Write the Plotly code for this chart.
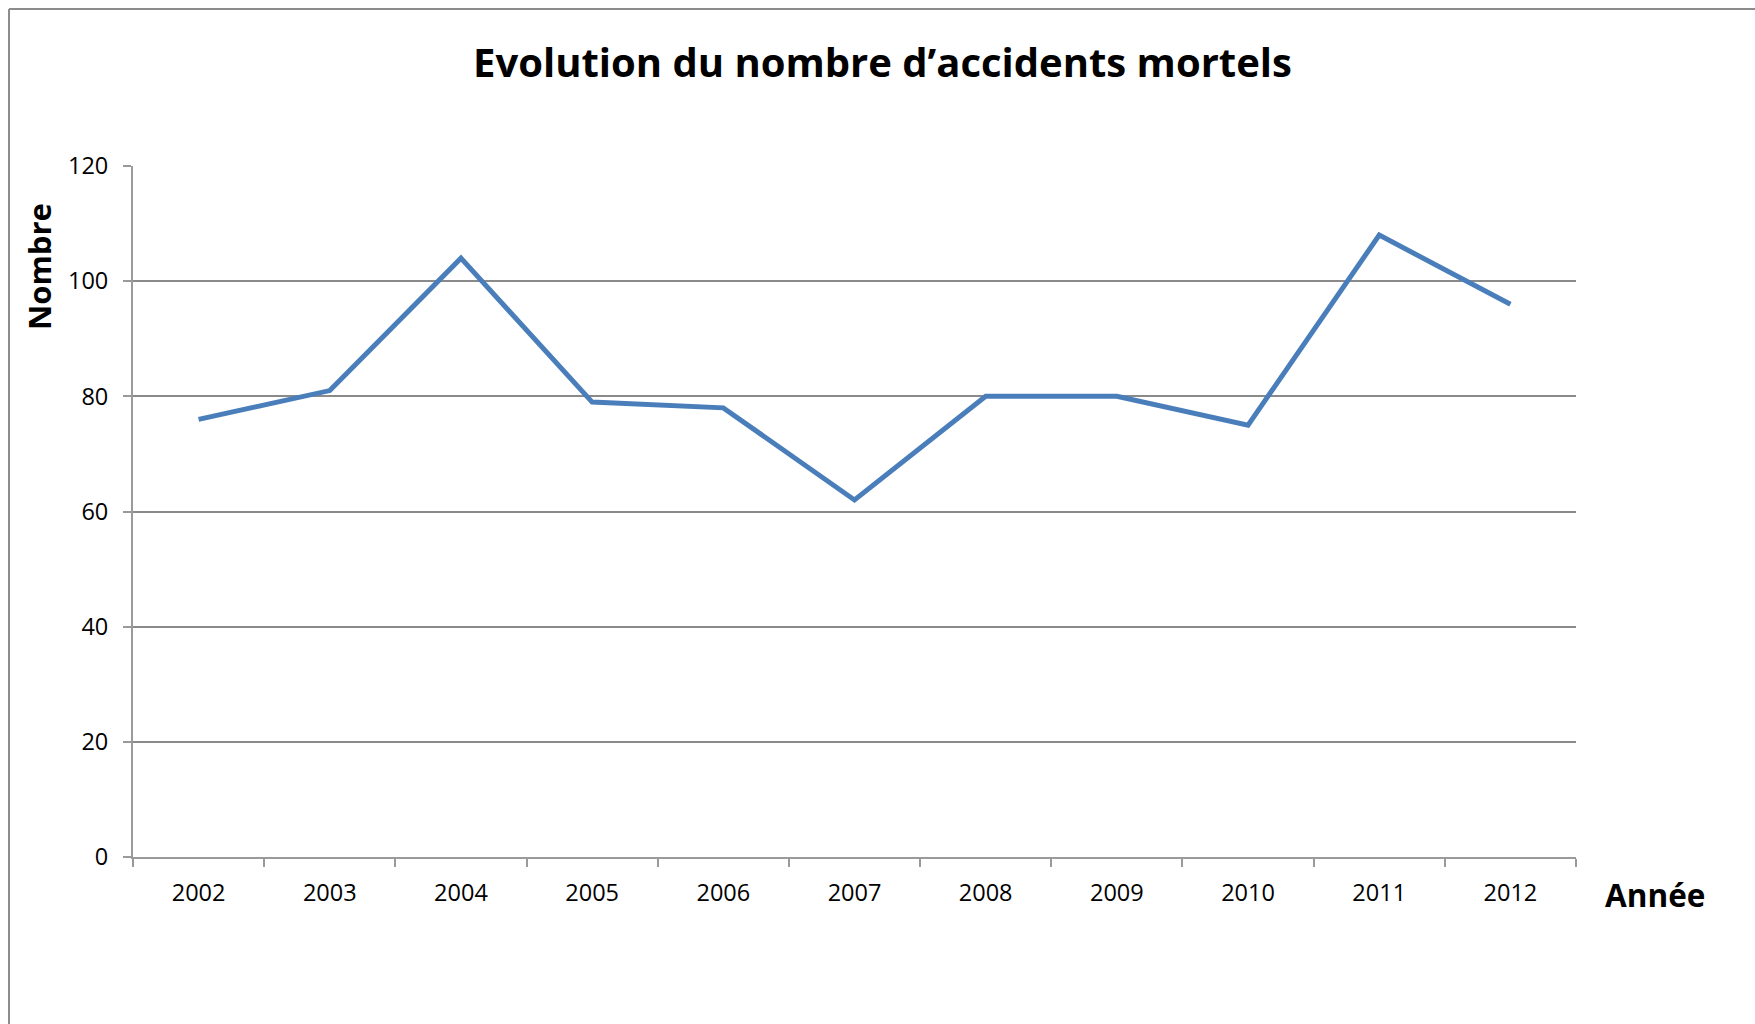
import plotly.graph_objects as go

years = ["2002", "2003", "2004", "2005", "2006", "2007", "2008", "2009", "2010", "2011", "2012"]
values = [76, 81, 104, 79, 78, 62, 80, 80, 75, 108, 96]
y_ticks = [0, 20, 40, 60, 80, 100, 120]

title_text = "Evolution du nombre d\u2019accidents mortels"
y_title = "Nombre"
x_title = "Année"

W, H = 1755, 1024
L, R, T, B = 133, 179, 166, 167
pw, ph = W - L - R, H - T - B

def px(x):
    return (x - L) / pw

def py(y):
    return (H - B - y) / ph

grid = "#8a8a8a"
axis_c = "#9a9a9a"
font_fam = "Open Sans, Noto Sans, sans-serif"

fig = go.Figure()
fig.add_trace(go.Scatter(
    x=years, y=values, mode="lines",
    line=dict(color="#4A7EBB", width=5),
    hoverinfo="x+y", showlegend=False,
))

fig.update_layout(
    width=W, height=H,
    margin=dict(l=L, r=R, t=T, b=B, pad=0),
    paper_bgcolor="white", plot_bgcolor="white",
    font=dict(family=font_fam, color="black", size=23),
    xaxis=dict(
        type="category", range=[-0.5, 10.5],
        tickson="boundaries", ticks="outside", ticklen=8, tickwidth=1.5, tickcolor=axis_c,
        showline=True, linecolor=axis_c, linewidth=2,
        showgrid=False, zeroline=False,
        tickfont=dict(size=23.5, family=font_fam, color="black"),
        ticklabelstandoff=14,
    ),
    yaxis=dict(
        range=[0, 120], tickvals=y_ticks,
        ticks="outside", ticklen=8, tickwidth=1.5, tickcolor=axis_c,
        showline=True, linecolor=axis_c, linewidth=2,
        showgrid=True, gridcolor=grid, gridwidth=2,
        zeroline=False,
        tickfont=dict(size=23.5, family=font_fam, color="black"),
        ticklabelstandoff=10,
    ),
    annotations=[
        dict(text="<b>" + title_text + "</b>", xref="paper", yref="paper",
             x=px(882), y=py(61), xanchor="center", yanchor="middle",
             showarrow=False, font=dict(size=40, family=font_fam, color="black")),
        dict(text="<b>" + y_title + "</b>", xref="paper", yref="paper",
             x=px(39), y=py(267), xanchor="center", yanchor="middle", textangle=-90,
             showarrow=False, font=dict(size=31, family=font_fam, color="black")),
        dict(text="<b>" + x_title + "</b>", xref="paper", yref="paper",
             x=px(1655), y=py(895), xanchor="center", yanchor="middle",
             showarrow=False, font=dict(size=31.5, family=font_fam, color="black")),
    ],
    shapes=[
        dict(type="line", xref="paper", yref="paper",
             x0=px(9), x1=px(9), y0=py(9), y1=py(H + 5),
             line=dict(color="#8c8c8c", width=2)),
        dict(type="line", xref="paper", yref="paper",
             x0=px(9), x1=px(W + 5), y0=py(9), y1=py(9),
             line=dict(color="#8c8c8c", width=2)),
    ],
)

fig.write_html(
    "out.html",
    config={"displayModeBar": False},
    post_script="document.body.style.margin='0';document.body.style.overflow='hidden';",
)
